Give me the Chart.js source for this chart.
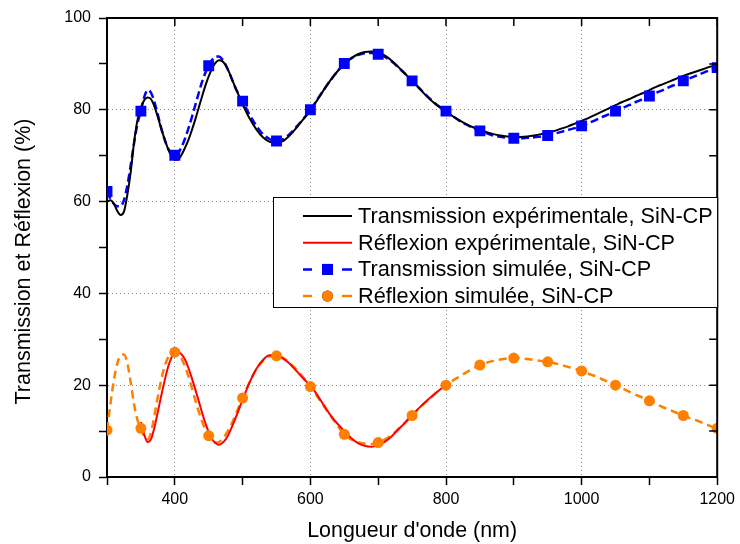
<!DOCTYPE html>
<html lang="fr">
<head>
<meta charset="UTF-8">
<title>Transmission et Réflexion SiN-CP</title>
<script src="https://cdn.jsdelivr.net/npm/chart.js@4.4.0/dist/chart.umd.min.js"></script>
<style>
    html, body { margin: 0; padding: 0; background: #ffffff; }
</style>
</head>
<body>
<canvas id="grafico" width="740" height="544"></canvas>

<script>
    // longueurs d'onde (nm) : pas de 5 nm jusqu'a 500, puis 10 nm
    const lambda = [
        300, 305, 310, 315, 320, 325, 330, 335, 340, 345,
        350, 355, 360, 365, 370, 375, 380, 385, 390, 395,
        400, 405, 410, 415, 420, 425, 430, 435, 440, 445,
        450, 455, 460, 465, 470, 475, 480, 485, 490, 495,
        500,
        510, 520, 530, 540, 550, 560, 570, 580, 590, 600,
        610, 620, 630, 640, 650, 660, 670, 680, 690, 700,
        710, 720, 730, 740, 750, 760, 770, 780, 790, 800,
        810, 820, 830, 840, 850, 860, 870, 880, 890, 900,
        910, 920, 930, 940, 950, 960, 970, 980, 990, 1000,
        1010, 1020, 1030, 1040, 1050, 1060, 1070, 1080, 1090, 1100,
        1110, 1120, 1130, 1140, 1150, 1160, 1170, 1180, 1190, 1200
    ];

    const transExp = [
        60.0, 60.3, 59.6, 58.0, 57.1, 57.8, 61.5, 66.5, 73.0, 77.8,
        80.5, 82.1, 82.7, 82.3, 80.7, 78.4, 75.9, 73.6, 71.5, 69.9,
        69.1, 69.2, 70.2, 71.7, 73.4, 75.5, 77.8, 80.3, 82.8, 85.2,
        87.3, 89.0, 90.2, 90.8, 90.6, 89.7, 88.2, 86.4, 84.6, 82.9,
        81.2,
        78.2, 75.8, 74.0, 73.0, 72.7, 73.2, 74.5, 76.2, 78.0, 79.9,
        82.1, 84.4, 86.5, 88.4, 90.0, 91.2, 92.1, 92.6, 92.7, 92.4,
        91.8, 90.7, 89.3, 87.8, 86.3, 84.8, 83.2, 81.8, 80.6, 79.6,
        78.6, 77.7, 76.9, 76.2, 75.6, 75.1, 74.7, 74.4, 74.2, 74.1,
        74.1, 74.2, 74.4, 74.7, 75.0, 75.4, 75.9, 76.4, 77.0, 77.6,
        78.2, 78.9, 79.6, 80.3, 81.0, 81.7, 82.3, 83.0, 83.6, 84.3,
        85.0, 85.6, 86.2, 86.8, 87.4, 87.9, 88.4, 88.9, 89.4, 89.8
    ];

    const transSim = [
        62.2, 60.6, 59.5, 59.0, 59.0, 60.3, 63.5, 68.0, 72.8, 77.0,
        79.7, 82.8, 84.3, 83.7, 81.7, 78.9, 76.0, 73.5, 71.6, 70.5,
        70.1, 70.6, 71.9, 73.7, 75.9, 78.3, 80.9, 83.5, 86.0, 88.0,
        89.6, 90.9, 91.6, 91.6, 91.0, 89.8, 88.2, 86.4, 84.6, 83.2,
        81.9,
        79.0, 76.6, 74.7, 73.6, 73.2, 73.6, 74.8, 76.4, 78.1, 80.0,
        82.2, 84.4, 86.5, 88.4, 90.1, 91.2, 91.9, 92.3, 92.4, 92.1,
        91.5, 90.5, 89.2, 87.8, 86.3, 84.8, 83.3, 81.9, 80.7, 79.7,
        78.6, 77.6, 76.8, 76.0, 75.4, 74.9, 74.4, 74.1, 73.9, 73.8,
        73.8, 73.9, 74.0, 74.2, 74.4, 74.8, 75.2, 75.6, 76.0, 76.5,
        77.1, 77.7, 78.4, 79.0, 79.7, 80.4, 81.0, 81.7, 82.3, 83.0,
        83.7, 84.3, 85.0, 85.6, 86.3, 86.9, 87.5, 88.1, 88.7, 89.2
    ];

    const reflSim = [
        10.2, 15.8, 21.0, 24.6, 26.5, 26.7, 24.8, 20.6, 15.8, 12.4,
        10.6, 8.8, 8.2, 9.8, 13.4, 17.5, 21.2, 24.1, 26.0, 27.0,
        27.2, 26.9, 25.8, 24.1, 22.0, 19.5, 16.9, 14.4, 12.2, 10.4,
        9.0, 8.0, 7.5, 7.6, 8.2, 9.2, 10.5, 12.0, 13.7, 15.5,
        17.2,
        20.6, 23.4, 25.3, 26.3, 26.4, 25.9, 24.8, 23.3, 21.6, 19.7,
        17.6, 15.4, 13.3, 11.2, 9.3, 8.2, 7.6, 7.3, 7.2, 7.5,
        8.2, 9.2, 10.5, 11.9, 13.4, 14.9, 16.3, 17.6, 18.9, 20.0,
        21.0, 21.9, 22.8, 23.6, 24.4, 24.9, 25.3, 25.6, 25.8, 25.9,
        25.9, 25.7, 25.5, 25.3, 25.1, 24.8, 24.4, 24.0, 23.6, 23.1,
        22.5, 22.0, 21.3, 20.7, 20.0, 19.3, 18.6, 17.9, 17.3, 16.6,
        15.9, 15.2, 14.6, 14.0, 13.4, 12.8, 12.3, 11.7, 11.1, 10.6
    ];

    // la reflexion mesuree ne couvre que 350 - 800 nm
    const lambdaReflExp = [
        350, 355, 360, 365, 370, 375, 380, 385, 390, 395,
        400, 405, 410, 415, 420, 425, 430, 435, 440, 445,
        450, 455, 460, 465, 470, 475, 480, 485, 490, 495,
        500,
        510, 520, 530, 540, 550, 560, 570, 580, 590, 600,
        610, 620, 630, 640, 650, 660, 670, 680, 690, 700,
        710, 720, 730, 740, 750, 760, 770, 780, 790, 800
    ];

    const reflExp = [
        12.0, 9.2, 7.6, 8.3, 10.8, 14.2, 17.7, 21.0, 23.9, 26.0,
        27.2, 27.3, 26.7, 25.6, 23.8, 21.6, 19.2, 16.7, 14.1, 11.8,
        9.8, 8.3, 7.4, 7.0, 7.4, 8.2, 9.5, 11.2, 13.0, 14.9,
        16.8,
        20.5, 23.5, 25.5, 26.5, 26.5, 25.8, 24.6, 23.0, 21.4, 19.9,
        17.9, 15.6, 13.4, 11.6, 10.0, 8.5, 7.4, 6.8, 6.6, 6.9,
        7.7, 8.9, 10.4, 11.9, 13.5, 15.0, 16.4, 17.7, 18.9, 20.1
    ];

    const etiquettesX = [400, 600, 800, 1000, 1200];
    const etiquettesY = [0, 20, 40, 60, 80, 100];

    const police = "'Liberation Sans', Arial, sans-serif";
    const titreY = 'Transmission et Réflexion (%)';

    function pares(xs, ys) {
        return xs.map(function (x, i) { return { x: x, y: ys[i] }; });
    }

    function marqueurs(xs, ys) {
        return pares(xs, ys).filter(function (p) { return p.x % 50 === 0; });
    }

    // cadre haut/droite avec graduations internes, titre Y + legende
    const cadre = {
        id: 'cadre',
        afterDraw(chart) {
            const ctx = chart.ctx;
            const a = chart.chartArea;
            const sx = chart.scales.x;
            const sy = chart.scales.y;

            ctx.save();
            ctx.strokeStyle = '#000';
            ctx.lineWidth = 2;
            ctx.beginPath();
            ctx.moveTo(a.left - 1, a.top);
            ctx.lineTo(a.right, a.top);
            ctx.lineTo(a.right, a.bottom + 1);
            ctx.stroke();

            ctx.lineWidth = 1.5;
            ctx.beginPath();
            sx.ticks.forEach(function (t) {
                const px = sx.getPixelForValue(t.value);
                ctx.moveTo(px, a.top);
                ctx.lineTo(px, a.top + 8);
            });
            sy.ticks.forEach(function (t) {
                const py = sy.getPixelForValue(t.value);
                ctx.moveTo(a.right, py);
                ctx.lineTo(a.right - 8, py);
            });
            ctx.stroke();

            // titre de l'axe Y (un peu decale vers le bas comme l'original)
            ctx.save();
            ctx.translate(24, (a.top + a.bottom) / 2 + 14);
            ctx.rotate(-Math.PI / 2);
            ctx.fillStyle = '#000';
            ctx.font = '21.5px ' + police;
            ctx.textAlign = 'center';
            ctx.textBaseline = 'middle';
            ctx.fillText(titreY, 0, 0);
            ctx.restore();

            // legende
            const gauche = 273, haut = 197, bas = 307;
            ctx.fillStyle = '#fff';
            ctx.fillRect(gauche, haut, a.right - gauche, bas - haut);
            ctx.lineWidth = 1;
            ctx.strokeStyle = '#000';
            ctx.strokeRect(gauche + 0.5, haut + 0.5, a.right - gauche, bas - haut);

            const ordre = [2, 3, 0, 1];
            ordre.forEach(function (idx, i) {
                const ds = chart.data.datasets[idx];
                const yy = haut + 19 + i * 26.7;
                ctx.strokeStyle = ds.borderColor;
                ctx.lineWidth = ds.borderWidth;
                ctx.setLineDash([]);
                ctx.beginPath();
                if (ds.marqueur) {
                    ctx.moveTo(303, yy); ctx.lineTo(312, yy);
                    ctx.moveTo(342, yy); ctx.lineTo(352, yy);
                } else {
                    ctx.moveTo(303, yy); ctx.lineTo(352, yy);
                }
                ctx.stroke();
                if (ds.marqueur) {
                    const m = chart.data.datasets[ds.marqueur];
                    Chart.helpers.drawPoint(ctx, {
                        pointStyle: m.pointStyle,
                        radius: m.pointRadius,
                        borderWidth: 0,
                        rotation: 0
                    }, 327.5, yy);
                    ctx.fillStyle = m.backgroundColor;
                    ctx.fill();
                }
                ctx.fillStyle = '#000';
                ctx.font = '21.7px ' + police;
                ctx.textBaseline = 'middle';
                ctx.textAlign = 'left';
                ctx.fillText(ds.label, 358, yy + 1);
            });
            ctx.restore();
        }
    };

    const ctx = document.getElementById('grafico').getContext('2d');
    const grafico = new Chart(ctx, {
        type: 'line',
        data: {
            datasets: [
                {
                    label: 'Transmission simulée, SiN-CP',
                    data: pares(lambda, transSim),
                    borderColor: '#0000ff',
                    borderWidth: 2.5,
                    borderDash: [8, 4],
                    pointRadius: 0,
                    cubicInterpolationMode: 'monotone',
                    order: 3,
                    marqueur: 4
                },
                {
                    label: 'Réflexion simulée, SiN-CP',
                    data: pares(lambda, reflSim),
                    borderColor: '#ff8000',
                    borderWidth: 2.5,
                    borderDash: [8, 5],
                    pointRadius: 0,
                    cubicInterpolationMode: 'monotone',
                    order: 3,
                    marqueur: 5
                },
                {
                    label: 'Transmission expérimentale, SiN-CP',
                    data: pares(lambda, transExp),
                    borderColor: '#000000',
                    borderWidth: 2,
                    pointRadius: 0,
                    cubicInterpolationMode: 'monotone',
                    order: 2
                },
                {
                    label: 'Réflexion expérimentale, SiN-CP',
                    data: pares(lambdaReflExp, reflExp),
                    borderColor: '#ff0000',
                    borderWidth: 2,
                    pointRadius: 0,
                    cubicInterpolationMode: 'monotone',
                    order: 2
                },
                {
                    label: 'marqueurs T',
                    data: marqueurs(lambda, transSim),
                    showLine: false,
                    pointStyle: 'rect',
                    pointRadius: 7.7,
                    pointBorderWidth: 0,
                    backgroundColor: '#0000ff',
                    borderColor: '#0000ff',
                    order: 1
                },
                {
                    label: 'marqueurs R',
                    data: marqueurs(lambda, reflSim),
                    showLine: false,
                    pointStyle: 'circle',
                    pointRadius: 5.5,
                    pointBorderWidth: 0,
                    backgroundColor: '#ff8000',
                    borderColor: '#ff8000',
                    order: 1
                }
            ]
        },
        options: {
            responsive: false,
            animation: false,
            devicePixelRatio: 1,
            layout: { padding: { top: 18, right: 21, left: 0, bottom: 0 } },
            plugins: {
                legend: { display: false },
                tooltip: { enabled: false }
            },
            scales: {
                x: {
                    type: 'linear',
                    min: 300,
                    max: 1200,
                    afterFit: function (s) { s.height = 67; },
                    ticks: {
                        stepSize: 100,
                        autoSkip: false,
                        maxRotation: 0,
                        padding: 5,
                        color: '#000',
                        font: { family: police, size: 16 },
                        callback: function (v) { return etiquettesX.includes(v) ? v : ''; }
                    },
                    grid: {
                        color: function (c) {
                            const v = c.tick ? c.tick.value : 0;
                            return (v % 200 === 0 && v > 300 && v < 1200) ? '#8a8a8a' : 'rgba(0,0,0,0)';
                        },
                        lineWidth: 1,
                        tickColor: '#000',
                        tickLength: 8,
                        tickWidth: 1.5
                    },
                    border: { display: true, color: '#000', width: 2, dash: [1, 3] },
                    title: {
                        display: true,
                        text: "Longueur d'onde (nm)",
                        color: '#000',
                        font: { family: police, size: 21.4 },
                        padding: { top: 0, bottom: 0 }
                    }
                },
                y: {
                    min: 0,
                    max: 100,
                    afterFit: function (s) { s.width = 107; },
                    ticks: {
                        stepSize: 10,
                        autoSkip: false,
                        padding: 8,
                        color: '#000',
                        font: { family: police, size: 16 },
                        callback: function (v) { return etiquettesY.includes(v) ? v : ''; }
                    },
                    grid: {
                        color: function (c) {
                            const v = c.tick ? c.tick.value : 0;
                            return (v % 20 === 0 && v > 0 && v < 100) ? '#8a8a8a' : 'rgba(0,0,0,0)';
                        },
                        lineWidth: 1,
                        tickColor: '#000',
                        tickLength: 8,
                        tickWidth: 1.5
                    },
                    border: { display: true, color: '#000', width: 2, dash: [1, 3] },
                    title: { display: false }
                }
            }
        },
        plugins: [cadre]
    });
</script>
</body>
</html>
